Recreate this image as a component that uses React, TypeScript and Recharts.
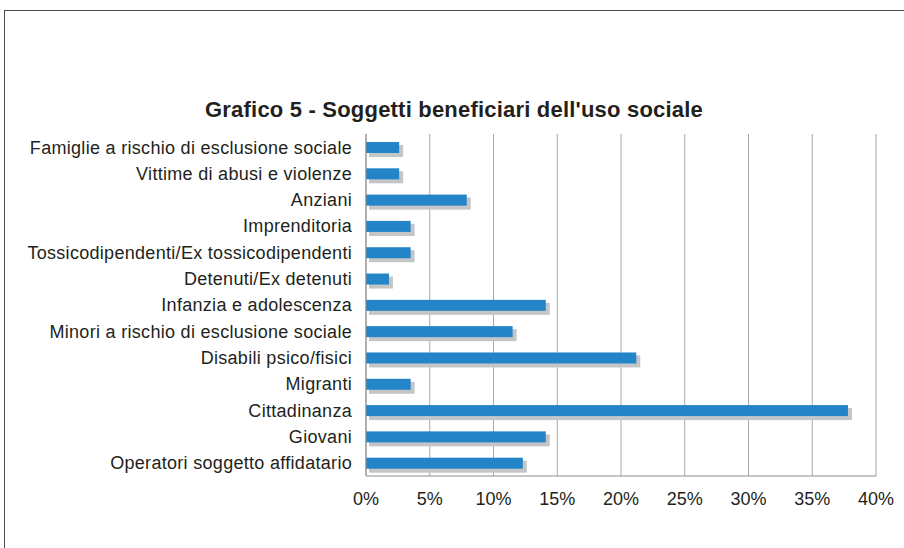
import { Bar, BarChart, CartesianGrid, XAxis, YAxis } from 'recharts';

const categories = [
  'Famiglie a rischio di esclusione sociale',
  'Vittime di abusi e violenze',
  'Anziani',
  'Imprenditoria',
  'Tossicodipendenti/Ex tossicodipendenti',
  'Detenuti/Ex detenuti',
  'Infanzia e adolescenza',
  'Minori a rischio di esclusione sociale',
  'Disabili psico/fisici',
  'Migranti',
  'Cittadinanza',
  'Giovani',
  'Operatori soggetto affidatario',
];

const shares = [2.6, 2.6, 7.9, 3.5, 3.5, 1.8, 14.1, 11.5, 21.2, 3.5, 37.8, 14.1, 12.3];

const xTicks = [0, 5, 10, 15, 20, 25, 30, 35, 40];

const data = categories.map((name, i) => ({ name, value: shares[i] }));

// bar with the offset grey drop shadow
const ShadowBar = (props: any) => {
  const { x, y, width, height } = props;
  if (!width || width <= 0) return null;
  return (
    <g>
      <rect x={x + 3} y={y + 3} width={width + 1} height={height + 1} fill="#c3c5c7" />
      <rect x={x} y={y} width={width} height={height} fill="#2385c7" />
    </g>
  );
};

export default function App() {
  return (
    <div
      style={{
        position: 'fixed',
        left: 0,
        top: 0,
        width: 904,
        height: 548,
        overflow: 'hidden',
        background: '#fff',
        fontFamily: '"Liberation Sans", Arial, sans-serif',
      }}>
      <div
        style={{
          position: 'absolute',
          left: 4,
          top: 10,
          width: 940,
          height: 600,
          borderLeft: '1px solid #4a4a4a',
          borderTop: '1px solid #4a4a4a',
        }}
      />
      <div
        style={{
          position: 'absolute',
          left: 0,
          width: 908,
          top: 97,
          textAlign: 'center',
          fontSize: 22,
          letterSpacing: 0.2,
          fontWeight: 'bold',
          color: '#231f20',
        }}>
        Grafico 5 - Soggetti beneficiari dell'uso sociale
      </div>
      <div style={{ position: 'absolute', left: 0, top: 0 }}>
        <BarChart
          width={904}
          height={548}
          data={data}
          layout="vertical"
          margin={{ top: 134, right: 28, left: 0, bottom: 42 }}>
          <CartesianGrid horizontal={false} stroke="#a8a8a8" />
          <XAxis
            type="number"
            domain={[0, 40]}
            ticks={xTicks}
            tickFormatter={(v) => `${v}%`}
            height={30}
            tickLine={false}
            tickSize={0}
            tickMargin={16}
            axisLine={{ stroke: '#8c8c8c' }}
            tick={{ fontSize: 18, fill: '#231f20' }}
            interval={0}
          />
          <YAxis
            type="category"
            dataKey="name"
            width={366}
            tickLine={false}
            tickSize={0}
            tickMargin={14}
            axisLine={{ stroke: '#8c8c8c' }}
            tick={{ fontSize: 18, fill: '#231f20', letterSpacing: 0.3 }}
            interval={0}
          />
          <Bar
            dataKey="value"
            barSize={11}
            shape={<ShadowBar />}
            isAnimationActive={false}
          />
        </BarChart>
      </div>
    </div>
  );
}
